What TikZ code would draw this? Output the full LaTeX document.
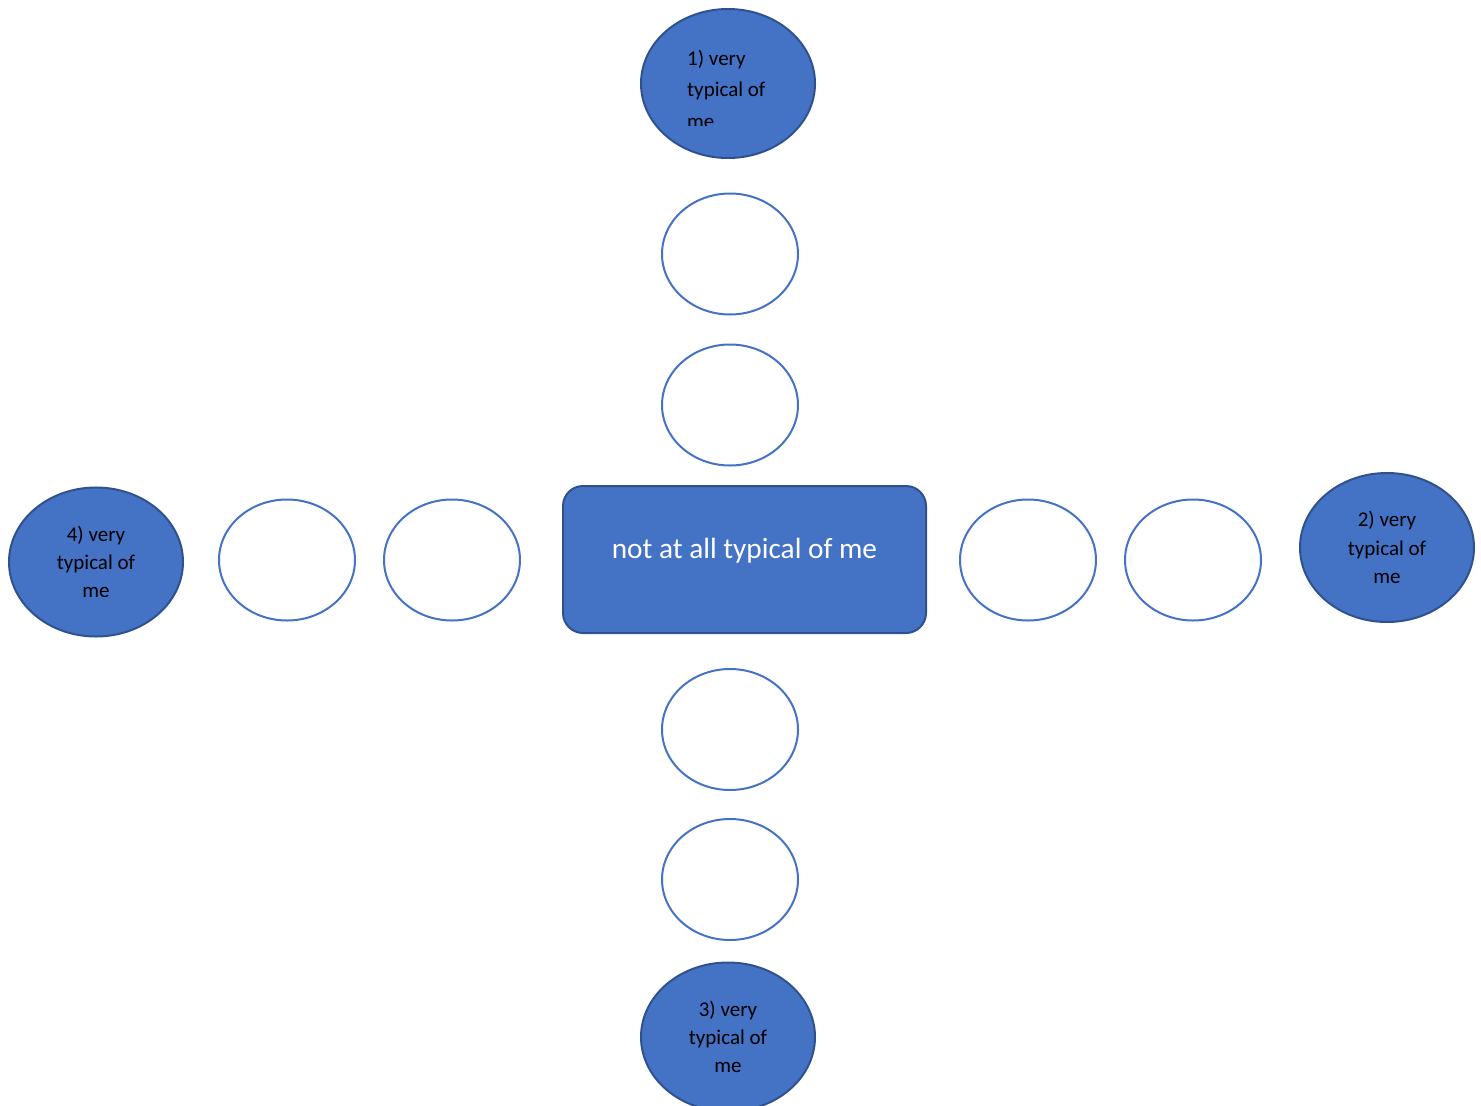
\documentclass[tikz,border=0pt]{standalone}
\usepackage{fontspec}
\setmainfont{Carlito}
\usetikzlibrary{shapes.geometric}
\definecolor{accent}{HTML}{4472C4}
\definecolor{accentdark}{HTML}{2F528F}
\tikzset{
  bigoval/.style={ellipse, draw=accentdark, fill=accent, line width=2pt,
    minimum width=174pt, minimum height=149pt, inner sep=0pt, text=black,
    align=center, font=\fontsize{21}{28.3}\selectfont},
  smalloval/.style={ellipse, draw=accent, fill=white, line width=2pt,
    minimum width=136pt, minimum height=121pt, inner sep=0pt},
  centerbox/.style={draw=accentdark, fill=accent, line width=2pt, rounded corners=20pt,
    minimum width=363pt, minimum height=147pt, inner sep=0pt},
}
\begin{document}
\begin{tikzpicture}[x=1pt,y=-1pt]
\useasboundingbox (0,0) rectangle (1481,1106);
% top
\node[bigoval] (v1) at (728,83.5) {};
\begin{scope}
  \clip (600,0) rectangle (860,125);
  \node[anchor=north west, align=left, inner sep=0pt, text=black,
    font=\fontsize{21}{31.5}\selectfont] (t1) at (687,49.5) {1) very\\typical of\\me};
\end{scope}
\node[smalloval] (u1) at (730,254) {};
\node[smalloval] (u2) at (730,405) {};
% center
\node[centerbox] (c) at (744.5,559.5) {};
\node[text=white, font=\fontsize{29.3}{34}\selectfont, inner sep=0pt] (ct) at (744.5,550.5) {not at all typical of me};
% left
\node[bigoval] (v4) at (96,562) {4) very\\typical of\\me};
\node[smalloval] (l1) at (287,560) {};
\node[smalloval] (l2) at (452,560) {};
% right
\node[smalloval] (r1) at (1028,560) {};
\node[smalloval] (r2) at (1193,560) {};
\node[bigoval] (v2) at (1387,547.5) {2) very\\typical of\\me};
% bottom
\node[smalloval] (b1) at (730,729.5) {};
\node[smalloval] (b2) at (730,879.5) {};
\node[bigoval] (v3) at (728,1037) {3) very\\typical of\\me};
\end{tikzpicture}
\end{document}
